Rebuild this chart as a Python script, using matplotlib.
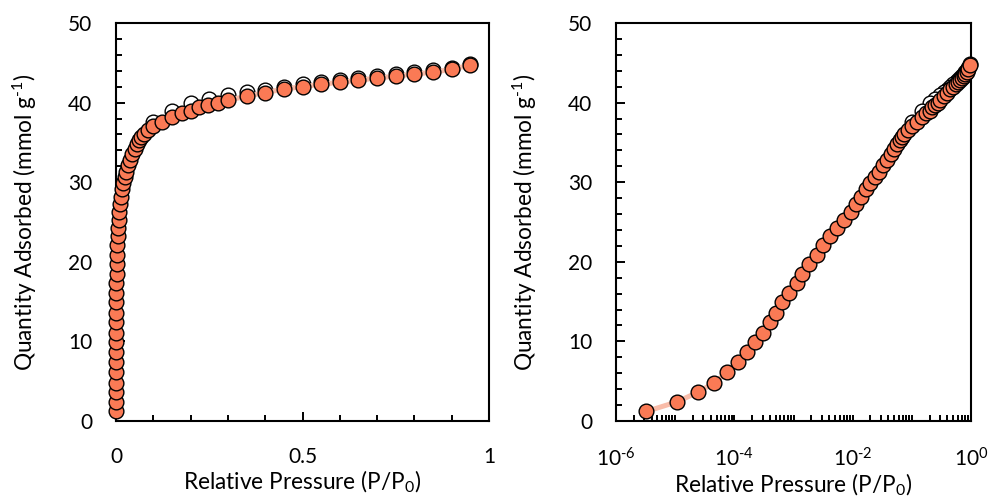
import numpy as np
import matplotlib
matplotlib.use("Agg")
import matplotlib.pyplot as plt
from matplotlib.ticker import MultipleLocator, LogLocator, FuncFormatter, NullFormatter

# Adsorption branch (relative pressure, quantity adsorbed in mmol/g)
ads_p = [3.25e-6, 1.07e-5, 2.4e-5, 4.6e-5, 7.5e-5, 1.15e-4, 1.62e-4, 2.24e-4,
         3.02e-4, 4.0e-4, 5.06e-4, 6.4e-4, 8.5e-4, 1.13e-3, 1.41e-3, 1.85e-3,
         2.46e-3, 3.16e-3, 4.17e-3, 5.43e-3, 7.2e-3, 9.3e-3, 0.0115, 0.014,
         0.017, 0.020, 0.024, 0.028, 0.033, 0.038, 0.044, 0.050, 0.056, 0.062,
         0.068, 0.074, 0.085, 0.10, 0.122, 0.15, 0.176, 0.20, 0.223, 0.247,
         0.274, 0.30, 0.35, 0.40, 0.45, 0.50, 0.55, 0.60, 0.65, 0.70, 0.75,
         0.80, 0.85, 0.90, 0.95]
ads_q = [1.2, 2.4, 3.6, 4.8, 6.1, 7.4, 8.7, 9.9,
         11.1, 12.4, 13.6, 14.9, 16.1, 17.3, 18.5, 19.7,
         20.9, 22.1, 23.2, 24.2, 25.2, 26.2, 27.3, 28.1,
         29.1, 29.9, 30.6, 31.3, 32.1, 32.8, 33.5, 34.2, 34.8, 35.3,
         35.7, 36.1, 36.6, 37.0, 37.5, 38.2, 38.7, 39.0, 39.4, 39.7,
         40.0, 40.3, 40.8, 41.25, 41.7, 42.0, 42.3, 42.55, 42.8, 43.1, 43.3,
         43.6, 43.8, 44.2, 44.7]

# Desorption branch
des_p = [0.95, 0.90, 0.85, 0.80, 0.75, 0.70, 0.65, 0.60, 0.55, 0.50,
         0.45, 0.40, 0.35, 0.30, 0.25, 0.20, 0.15, 0.10]
des_q = [44.8, 44.4, 44.1, 43.85, 43.6, 43.35, 43.1, 42.85, 42.6, 42.3,
         42.0, 41.6, 41.3, 40.9, 40.45, 39.9, 38.9, 37.6]

FONT = "Lato"
plt.rcParams["font.family"] = [FONT, "DejaVu Sans"]
plt.rcParams["mathtext.fontset"] = "custom"
plt.rcParams["mathtext.rm"] = FONT
plt.rcParams["mathtext.it"] = FONT
plt.rcParams["mathtext.bf"] = FONT
plt.rcParams["mathtext.default"] = "regular"

FILL = "#FA7A55"
LINE = "#F9BCA9"
TICK_FS = 15
LABEL_FS = 16.3

fig = plt.figure(figsize=(9.91, 4.99), dpi=100)
ax1 = fig.add_axes([116 / 991, 78 / 499, 373 / 991, 398 / 499])
ax2 = fig.add_axes([616 / 991, 78 / 499, 355 / 991, 398 / 499])


def draw(ax):
    ax.plot(des_p, des_q, ls="none", marker="o", ms=10.6, mfc="white",
            mec="black", mew=1.0, zorder=2, clip_on=False)
    ax.plot(ads_p, ads_q, ls="-", lw=3.6, color=LINE, marker="o", ms=10.6,
            mfc=FILL, mec="black", mew=1.0, zorder=3, clip_on=False)
    ax.set_ylim(0, 50)
    ax.yaxis.set_major_locator(MultipleLocator(10))
    ax.yaxis.set_minor_locator(MultipleLocator(2))
    for s in ax.spines.values():
        s.set_linewidth(1.5)
    ax.tick_params(which="both", direction="in", top=False, right=False,
                   width=1.4, labelsize=TICK_FS)
    ax.tick_params(which="major", length=6.5)
    ax.tick_params(which="minor", length=4.5)
    ax.tick_params(axis="y", pad=17)
    ax.tick_params(axis="x", pad=19)
    ax.set_ylabel(r"Quantity Adsorbed (mmol g$^{\text{-1}}$)", fontsize=LABEL_FS,
                  labelpad=21)
    ax.set_xlabel("Relative Pressure (P/P$_0$)", fontsize=LABEL_FS, labelpad=1.2)


draw(ax1)
ax1.set_xlim(0, 1)
ax1.xaxis.set_major_locator(MultipleLocator(0.5))
ax1.xaxis.set_minor_locator(MultipleLocator(0.1))
ax1.xaxis.set_major_formatter(FuncFormatter(lambda v, _: f"{v:g}"))

draw(ax2)
ax2.set_xscale("log")
ax2.set_xlim(1e-6, 1)
ax2.xaxis.set_major_locator(LogLocator(base=10, numticks=20))
ax2.xaxis.set_minor_locator(LogLocator(base=10, subs=np.arange(2, 10), numticks=20))
ax2.xaxis.set_minor_formatter(NullFormatter())


def even_decades(v, _):
    e = int(round(np.log10(v)))
    return "10$^{\\text{%d}}$" % e if e % 2 == 0 else ""


ax2.xaxis.set_major_formatter(FuncFormatter(even_decades))
ax2.tick_params(axis="x", which="both", length=4.5)

fig.savefig("out.png", dpi=100)
